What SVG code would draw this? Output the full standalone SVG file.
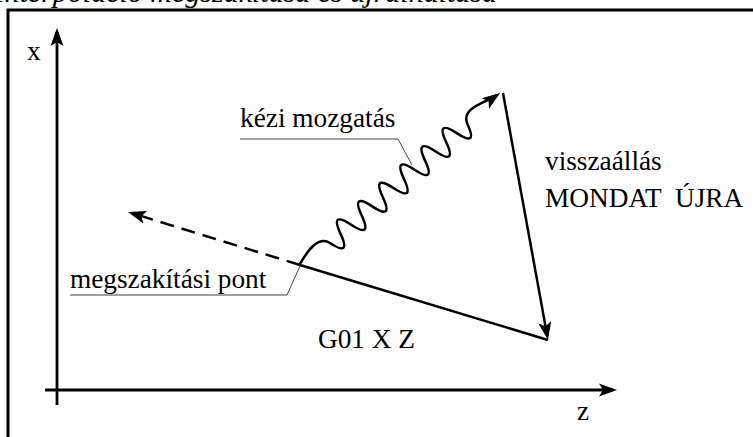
<svg xmlns="http://www.w3.org/2000/svg" width="753" height="437" viewBox="0 0 753 437">
<style>
.ln{stroke:#000;stroke-width:2.5;fill:none}
.ax{stroke:#000;stroke-width:2.8;fill:none}
.ld{stroke:#444;stroke-width:1;fill:none}
text{font-family:"Liberation Serif","Times New Roman",serif;fill:#000}
.t{font-size:27.3px}
.ti{font-size:30px;font-style:italic}
</style>
<defs>
<marker id="ah" viewBox="-16 -8 21 16" markerWidth="21" markerHeight="16" refX="0" refY="0" orient="auto" markerUnits="userSpaceOnUse">
<path d="M4,0 L-14,-6.5 L-10,0 L-14,6.5 Z" fill="#000"/>
</marker>
</defs>
<rect width="753" height="437" fill="#fff"/>
<g id="title"><text class="ti" x="497" y="2" text-anchor="end">Interpolació megszakítása és újraindítása</text></g>
<g id="frame"><path d="M8,445 V10 H760" stroke="#000" stroke-width="3" fill="none"/></g>
<g id="axes">
<path class="ax" d="M57,405 V32" marker-end="url(#ah)"/>
<path class="ax" d="M45,390 H613" marker-end="url(#ah)"/>
</g>
<g id="connectors">
<path class="ln" d="M300,265 L548,340"/>
<path class="ln" d="M300,265 L131.8,213.2" stroke-dasharray="14 8" marker-end="url(#ah)"/>
<path class="ln" d="M503,93 L547.3,336.1" marker-end="url(#ah)"/>
<g transform="translate(330,243) rotate(-40.9)">
<path class="ln" stroke-linecap="round" d="M-36.4,-3.8 C-21.2,-9.1 -4,-13 0,0 c4.66,16.5 9.32,16.5 13.98,0 c4.66,-16.5 9.32,-16.5 13.98,0 c4.66,16.5 9.32,16.5 13.98,0 c4.66,-16.5 9.32,-16.5 13.98,0 c4.66,16.5 9.32,16.5 13.98,0 c4.66,-16.5 9.32,-16.5 13.98,0 c4.66,16.5 9.32,16.5 13.98,0 c4.66,-16.5 9.32,-16.5 13.98,0 c4.66,16.5 9.32,16.5 13.98,0 c4.66,-16.5 9.32,-16.5 13.98,0 c4.66,16.5 9.32,16.5 13.98,0 c4.66,-16.5 9.32,-16.5 13.98,0 c4.66,16.5 9.32,16.5 13.98,0 C187.3,-17 210.7,-3.6 222.7,-2.4" marker-end="url(#ah)"/>
</g>
<path class="ld" d="M240,139 H398 L412,165"/>
<path class="ld" d="M70,295 H287 L300,266"/>
</g>
<g id="label-x"><text class="t" x="27" y="60">x</text></g>
<g id="label-z"><text class="t" x="577" y="420">z</text></g>
<g id="label-kezi"><text class="t" x="240" y="127">kézi mozgatás</text></g>
<g id="label-megszakitasi"><text class="t" x="70" y="288">megszakítási pont</text></g>
<g id="label-visszaallas">
<text class="t" x="545" y="170">visszaállás</text>
<text class="t" x="545" y="207" xml:space="preserve">MONDAT  ÚJRA</text>
</g>
<g id="label-g01"><text class="t" x="318" y="348">G01 X Z</text></g>
</svg>
